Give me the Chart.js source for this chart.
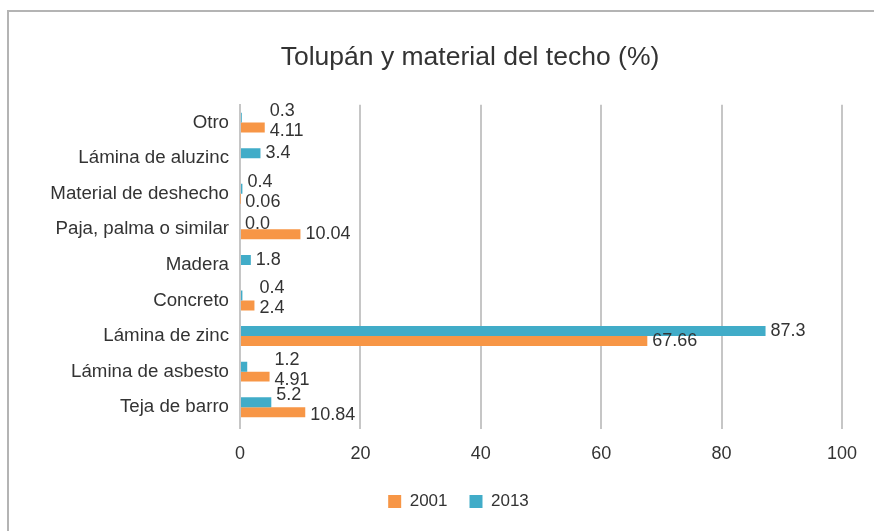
<!DOCTYPE html>
<html>
<head>
<meta charset="utf-8">
<script src="https://cdn.jsdelivr.net/npm/chart.js@4"></script>
<style>
  html, body { margin: 0; padding: 0; background: #fff; }
  #frame {
    position: absolute; left: 7px; top: 10px;
    width: 867px; height: 521px;
    border-top: 2px solid #b4b4b4; border-left: 2px solid #b4b4b4;
  }
  #wrap { position: absolute; left: 0; top: 0; width: 865px; height: 519px; }
</style>
</head>
<body>
<div id="frame"><div id="wrap"><canvas id="myBarChart"></canvas></div></div>
<script>
// categorias, de arriba hacia abajo
const categorias = [
  "Otro",
  "Lámina de aluzinc",
  "Material de deshecho",
  "Paja, palma o similar",
  "Madera",
  "Concreto",
  "Lámina de zinc",
  "Lámina de asbesto",
  "Teja de barro"
];
const valores2013 = [0.3, 3.4, 0.4, 0.0, 1.8, 0.4, 87.3, 1.2, 5.2];
const valores2001 = [4.11, null, 0.06, 10.04, null, 2.4, 67.66, 4.91, 10.84];
const ticksX = [0, 20, 40, 60, 80, 100];

const colorTeal = "#41acc8";
const colorOrange = "#f79646";
const textColor = "#333333";
const fontFam = "'Liberation Sans', Arial, sans-serif";

// etiquetas de datos al final de cada barra
const labelPlugin = {
  id: "barLabels",
  afterLayout(chart) {
    // el titulo y la leyenda del original no estan centrados en el lienzo
    chart.titleBlock.left += 89;
    chart.legend.left += 66;
  },
  afterDatasetsDraw(chart) {
    const ctx = chart.ctx;
    const mT = chart.getDatasetMeta(0);
    const mO = chart.getDatasetMeta(1);
    ctx.save();
    ctx.font = "18px " + fontFam;
    ctx.fillStyle = textColor;
    ctx.textAlign = "left";
    ctx.textBaseline = "middle";
    categorias.forEach((c, i) => {
      const vT = valores2013[i], vO = valores2001[i];
      const bT = mT.data[i], bO = mO.data[i];
      let xT = null, xO = null;
      if (vT !== null) xT = bT.x + 5;
      if (vO !== null) xO = bO.x + 5;
      if (xT !== null && xO !== null && bO.x > bT.x && bO.x - bT.x < 30) xT = bO.x + 5;
      let dyT = 0, dyO = 0;
      if (xT !== null && xO !== null && Math.abs(xT - xO) < 50) { dyT = -7; dyO = 3; }
      if (xT !== null) ctx.fillText(vT.toFixed(1), xT, bT.y + dyT);
      if (xO !== null) ctx.fillText(String(vO), xO, bO.y + dyO);
    });
    ctx.restore();
  }
};

const ctx = document.getElementById("myBarChart");
const myBarChart = new Chart(ctx, {
  type: "bar",
  data: {
    labels: categorias,
    datasets: [
      { label: "2013", data: valores2013, backgroundColor: colorTeal },
      { label: "2001", data: valores2001, backgroundColor: colorOrange }
    ]
  },
  options: {
    indexAxis: "y",
    responsive: true,
    maintainAspectRatio: false,
    animation: false,
    categoryPercentage: 0.56,
    barPercentage: 1.0,
    layout: { padding: { left: 0, right: 32, top: 0, bottom: 11 } },
    scales: {
      x: {
        min: 0, max: 100,
        afterBuildTicks: (s) => { s.ticks = ticksX.map(v => ({ value: v })); },
        grid: { color: "#c6c6c6", lineWidth: 2, drawTicks: true, tickLength: 4 },
        border: { display: false },
        ticks: { color: textColor, font: { family: fontFam, size: 18 }, padding: 14 },
        afterFit: (s) => { s.height = 46; }
      },
      y: {
        grid: { display: false },
        border: { display: true, color: "#c6c6c6", width: 2 },
        ticks: { color: textColor, font: { family: fontFam, size: 18.7 }, padding: 3 },
        afterFit: (s) => { s.width = 231; }
      }
    },
    plugins: {
      title: {
        display: true,
        text: "Tolupán y material del techo (%)",
        color: textColor,
        font: { family: fontFam, size: 26.5, weight: "normal" },
        padding: { top: 30, bottom: 31 }
      },
      legend: {
        position: "bottom",
        reverse: true,
        labels: {
          color: textColor,
          font: { family: fontFam, size: 17 },
          boxWidth: 13, boxHeight: 13,
          padding: 22
        }
      },
      tooltip: { enabled: false }
    }
  },
  plugins: [labelPlugin]
});
</script>
</body>
</html>
